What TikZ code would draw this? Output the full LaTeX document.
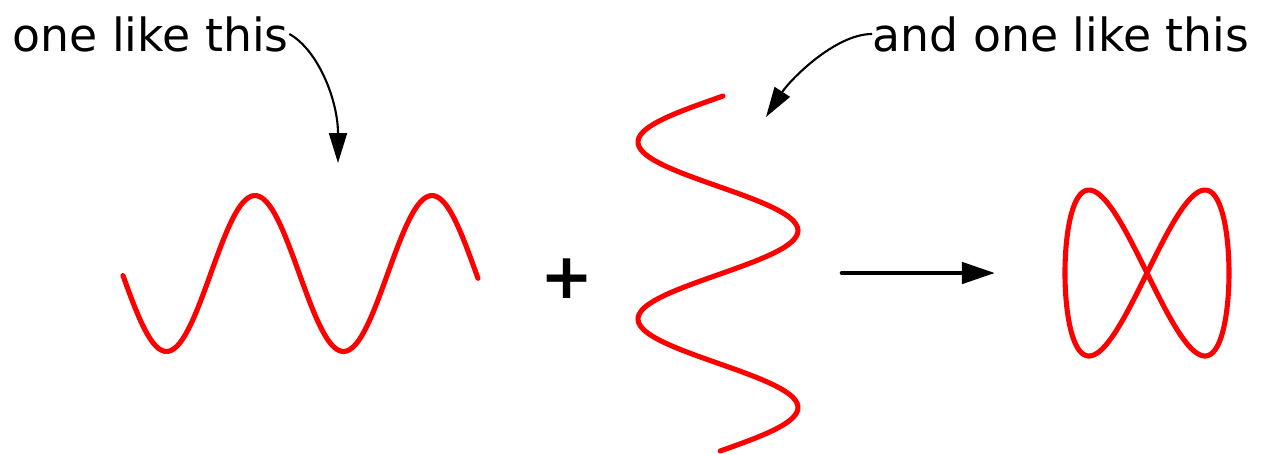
\documentclass[tikz,border=0pt]{standalone}
\usepackage{fontspec}
\setmainfont{DejaVu Sans}
\usetikzlibrary{positioning,arrows.meta}

\begin{document}
\begin{tikzpicture}[
x=0.01cm, y=-0.01cm,
wave/.style={red, line width=1.45pt, line cap=round, line join=round},
pointer/.style={draw, line width=0.6pt, -{Triangle[length=3mm, width=1.8mm]}},
bigarrow/.style={draw, line width=1.3pt, line cap=round, -{Triangle[length=3.3mm, width=2.1mm]}},
caption/.style={inner sep=0pt, font=\fontsize{13}{15}\selectfont}
]

\useasboundingbox (0,0) rectangle (1265,453);

%-------------------------
% Texts
%-------------------------

\node[caption, anchor=base west] (one) at (12,51) {one like this};
\node[caption, anchor=base east] (and) at (1250,51) {and one like this};
\node[inner sep=0pt, font=\fontsize{18}{20}\selectfont\bfseries] (plus) at (567,279) {+};

%-------------------------
% Waves
%-------------------------

\draw[wave] plot[domain=123:478, samples=120, smooth, variable=\x]
  ({\x}, {273.5-78*cos(2.0339*(\x-255))});
\draw[wave] plot[domain=96:451, samples=120, smooth, variable=\y]
  ({718-80*cos(2.0339*(\y-142))}, {\y});
\draw[wave] plot[domain=0:358, samples=180, smooth cycle, variable=\t]
  ({1147+82*sin(\t)}, {273-83*sin(2*\t)});

%-------------------------
% Arrows
%-------------------------

\coordinate (dip)  at (338,163);
\coordinate (bend) at (766,117);
\coordinate (from) at (842,273);
\coordinate (to)   at (995,273);

\draw[pointer] (one.east) .. controls (318,50) and (338,100) .. (dip);
\draw[pointer] (and.west) .. controls (835,34) and (790,80) .. (bend);
\draw[bigarrow] (from) -- (to);

\end{tikzpicture}
\end{document}
